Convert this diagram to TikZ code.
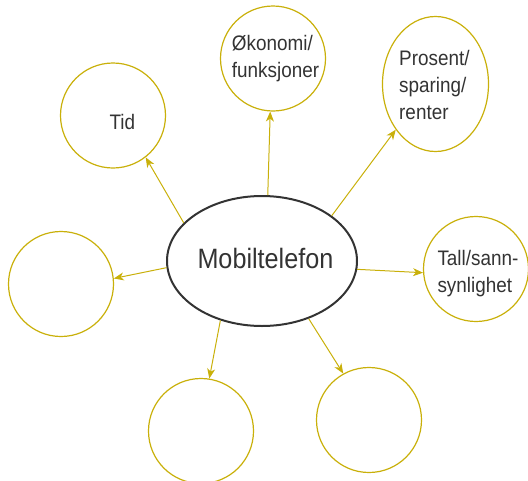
\documentclass[tikz,border=0pt]{standalone}
\usepackage{fontspec}
\setmainfont{Liberation Sans}[FakeStretch=0.9]
\usetikzlibrary{shapes.geometric,arrows.meta}
\definecolor{ring}{RGB}{201,176,10}
\definecolor{ink}{RGB}{51,51,51}
\tikzset{
  hub/.style={ellipse,draw=ink,line width=2pt,minimum width=190pt,minimum height=130pt,inner sep=0pt},
  topic/.style={circle,draw=ring,line width=1.2pt,minimum size=105pt,inner sep=0pt},
  oval/.style={ellipse,draw=ring,line width=1.2pt,minimum width=106pt,minimum height=135pt,inner sep=0pt},
  lbl/.style={anchor=base west,inner sep=0pt,align=left,text=ink,font=\fontsize{21}{27}\selectfont},
  arr/.style={draw=ring,line width=1pt,-{Stealth[length=10pt,width=8pt,inset=3pt]}}
}
\begin{document}
\begin{tikzpicture}[x=1pt,y=-1pt]
\useasboundingbox (0,0) rectangle (528,480);
% central topic
\node[hub] (mob) at (262,261) {};
\node[anchor=base west,inner sep=0pt,text=ink,font=\fontsize{28}{32}\selectfont] (mobtxt) at (197.3,268.3) {Mobiltelefon};
% surrounding topics
\node[topic] (tid) at (113,115.5) {};
\node[topic] (oko) at (273,58.5) {};
\node[oval] (pro) at (435.5,84) {};
\node[topic] (tall) at (476,269) {};
\node[topic] (left) at (61,284) {};
\node[topic] (botl) at (201,431) {};
\node[topic] (botr) at (369,420) {};
% labels (base anchor sits on the last line)
\node[lbl] (tidtxt) at (109.3,129) {Tid};
\node[lbl] (okotxt) at (231.7,77) {Økonomi/\\funksjoner};
\node[lbl] (protxt) at (399,119) {Prosent/\\sparing/\\renter};
\node[lbl] (talltxt) at (437.3,292) {Tall/sann-\\synlighet};
% connectors
\draw[arr] (mob.154) -- (tid.-52);
\draw[arr] (mob.85.4) -- (oko.-93);
\draw[arr] (mob.33.3) -- (pro.229.4);
\draw[arr] (mob.-5.8) -- (tall.184.3);
\draw[arr] (mob.184.2) -- (left.6.5);
\draw[arr] (mob.235.2) -- (botl.81.6);
\draw[arr] (mob.309.5) -- (botr.119.9);
\end{tikzpicture}
\end{document}
